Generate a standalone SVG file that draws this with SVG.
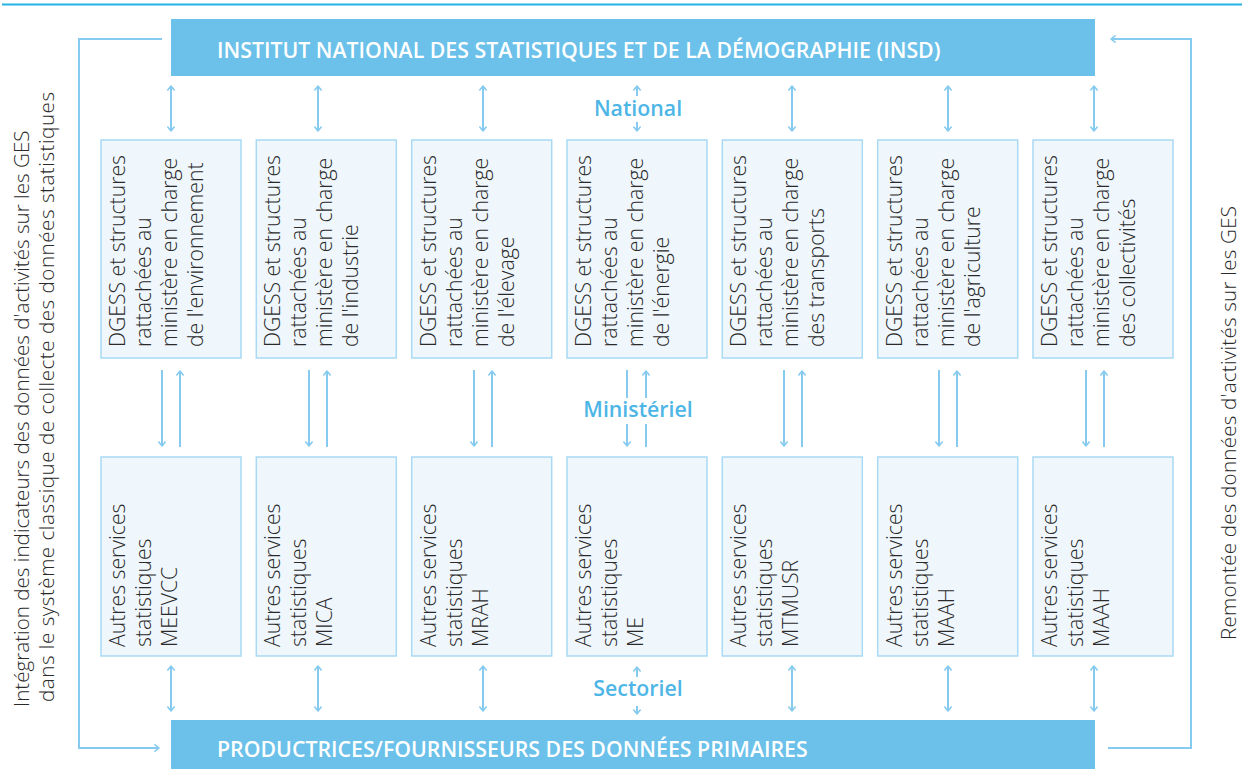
<svg xmlns="http://www.w3.org/2000/svg" width="1242" height="769" viewBox="0 0 1242 769">
  <defs>
    <marker id="head" viewBox="0 0 8 8" markerWidth="8" markerHeight="8" refX="6" refY="4" orient="auto-start-reverse" markerUnits="userSpaceOnUse">
      <path d="M2,0.8 L6,4 L2,7.2" fill="none" stroke="#86cbef" stroke-width="1.6" stroke-linecap="round" stroke-linejoin="round"/>
    </marker>
    <style>
      .band { fill: #6bc1e9; }
      .band-text { font-family: "Open Sans", "Liberation Sans", sans-serif; font-weight: 600; font-size: 21.3px; fill: #ffffff; }
      .box { fill: #eff7fd; stroke: #a9d9f3; stroke-width: 1.5; }
      .box-text { font-family: "Open Sans", "Liberation Sans", sans-serif; font-weight: 300; font-size: 21.2px; fill: #2a2a2a; }
      .side-text { font-family: "Open Sans", "Liberation Sans", sans-serif; font-weight: 300; font-size: 20.6px; fill: #2a2a2a; }
      .level { font-family: "Open Sans", "Liberation Sans", sans-serif; font-weight: 600; font-size: 21.3px; fill: #4db6e6; text-anchor: middle; }
      .link { fill: none; stroke: #86cbef; stroke-width: 2; }
      .both { marker-start: url(#head); marker-end: url(#head); }
      .end { marker-end: url(#head); }
      .rule { stroke: #22b3e2; stroke-width: 2; }
    </style>
  </defs>

  <!-- top rule -->
  <line class="rule" x1="2" y1="4.5" x2="1242" y2="4.5"/>

  <!-- national and primary-data bands -->
  <g id="insd">
    <rect class="band" x="171" y="19" width="924" height="57"/>
    <text class="band-text" x="217" y="58">INSTITUT NATIONAL DES STATISTIQUES ET DE LA DÉMOGRAPHIE (INSD)</text>
  </g>
  <g id="producteurs">
    <rect class="band" x="171" y="720" width="924" height="49"/>
    <text class="band-text" x="217" y="757">PRODUCTRICES/FOURNISSEURS DES DONNÉES PRIMAIRES</text>
  </g>

  <!-- level labels -->
  <g id="levels">
    <text class="level" x="638" y="116">National</text>
    <text class="level" x="638" y="417">Ministériel</text>
    <text class="level" x="638" y="696">Sectoriel</text>
  </g>

  <!-- ministry directorates (upper row) -->
  <g id="dgess-environnement">
    <rect class="box" x="101" y="140" width="140" height="218"/>
    <text class="box-text" transform="translate(125,347) rotate(-90)"><tspan x="0" y="0">DGESS et structures</tspan><tspan x="0" dy="26">rattachées au</tspan><tspan x="0" dy="26">ministère en charge</tspan><tspan x="0" dy="26">de l'environnement</tspan></text>
  </g>
  <g id="dgess-industrie">
    <rect class="box" x="256.3" y="140" width="140" height="218"/>
    <text class="box-text" transform="translate(280.3,347) rotate(-90)"><tspan x="0" y="0">DGESS et structures</tspan><tspan x="0" dy="26">rattachées au</tspan><tspan x="0" dy="26">ministère en charge</tspan><tspan x="0" dy="26">de l'industrie</tspan></text>
  </g>
  <g id="dgess-elevage">
    <rect class="box" x="411.7" y="140" width="140" height="218"/>
    <text class="box-text" transform="translate(435.7,347) rotate(-90)"><tspan x="0" y="0">DGESS et structures</tspan><tspan x="0" dy="26">rattachées au</tspan><tspan x="0" dy="26">ministère en charge</tspan><tspan x="0" dy="26">de l'élevage</tspan></text>
  </g>
  <g id="dgess-energie">
    <rect class="box" x="567" y="140" width="140" height="218"/>
    <text class="box-text" transform="translate(591,347) rotate(-90)"><tspan x="0" y="0">DGESS et structures</tspan><tspan x="0" dy="26">rattachées au</tspan><tspan x="0" dy="26">ministère en charge</tspan><tspan x="0" dy="26">de l'énergie</tspan></text>
  </g>
  <g id="dgess-transports">
    <rect class="box" x="722.3" y="140" width="140" height="218"/>
    <text class="box-text" transform="translate(746.3,347) rotate(-90)"><tspan x="0" y="0">DGESS et structures</tspan><tspan x="0" dy="26">rattachées au</tspan><tspan x="0" dy="26">ministère en charge</tspan><tspan x="0" dy="26">des transports</tspan></text>
  </g>
  <g id="dgess-agriculture">
    <rect class="box" x="877.7" y="140" width="140" height="218"/>
    <text class="box-text" transform="translate(901.7,347) rotate(-90)"><tspan x="0" y="0">DGESS et structures</tspan><tspan x="0" dy="26">rattachées au</tspan><tspan x="0" dy="26">ministère en charge</tspan><tspan x="0" dy="26">de l'agriculture</tspan></text>
  </g>
  <g id="dgess-collectivites">
    <rect class="box" x="1033" y="140" width="140" height="218"/>
    <text class="box-text" transform="translate(1057,347) rotate(-90)"><tspan x="0" y="0">DGESS et structures</tspan><tspan x="0" dy="26">rattachées au</tspan><tspan x="0" dy="26">ministère en charge</tspan><tspan x="0" dy="26">des collectivités</tspan></text>
  </g>

  <!-- other statistical services (lower row) -->
  <g id="ass-meevcc">
    <rect class="box" x="101" y="457" width="140" height="199"/>
    <text class="box-text" transform="translate(125,647) rotate(-90)"><tspan x="0" y="0">Autres services</tspan><tspan x="0" dy="26">statistiques</tspan><tspan x="0" dy="26">MEEVCC</tspan></text>
  </g>
  <g id="ass-mica">
    <rect class="box" x="256.3" y="457" width="140" height="199"/>
    <text class="box-text" transform="translate(280.3,647) rotate(-90)"><tspan x="0" y="0">Autres services</tspan><tspan x="0" dy="26">statistiques</tspan><tspan x="0" dy="26">MICA</tspan></text>
  </g>
  <g id="ass-mrah">
    <rect class="box" x="411.7" y="457" width="140" height="199"/>
    <text class="box-text" transform="translate(435.7,647) rotate(-90)"><tspan x="0" y="0">Autres services</tspan><tspan x="0" dy="26">statistiques</tspan><tspan x="0" dy="26">MRAH</tspan></text>
  </g>
  <g id="ass-me">
    <rect class="box" x="567" y="457" width="140" height="199"/>
    <text class="box-text" transform="translate(591,647) rotate(-90)"><tspan x="0" y="0">Autres services</tspan><tspan x="0" dy="26">statistiques</tspan><tspan x="0" dy="26">ME</tspan></text>
  </g>
  <g id="ass-mtmusr">
    <rect class="box" x="722.3" y="457" width="140" height="199"/>
    <text class="box-text" transform="translate(746.3,647) rotate(-90)"><tspan x="0" y="0">Autres services</tspan><tspan x="0" dy="26">statistiques</tspan><tspan x="0" dy="26">MTMUSR</tspan></text>
  </g>
  <g id="ass-maah-1">
    <rect class="box" x="877.7" y="457" width="140" height="199"/>
    <text class="box-text" transform="translate(901.7,647) rotate(-90)"><tspan x="0" y="0">Autres services</tspan><tspan x="0" dy="26">statistiques</tspan><tspan x="0" dy="26">MAAH</tspan></text>
  </g>
  <g id="ass-maah-2">
    <rect class="box" x="1033" y="457" width="140" height="199"/>
    <text class="box-text" transform="translate(1057,647) rotate(-90)"><tspan x="0" y="0">Autres services</tspan><tspan x="0" dy="26">statistiques</tspan><tspan x="0" dy="26">MAAH</tspan></text>
  </g>

  <!-- side captions -->
  <g id="integration">
    <text class="side-text" transform="translate(29,707) rotate(-90)"><tspan x="0" y="0">Intégration des indicateurs des données d'activités sur les GES</tspan></text>
    <text class="side-text" transform="translate(54,702) rotate(-90)" textLength="610" lengthAdjust="spacing">dans le système classique de collecte des données statistiques</text>
  </g>
  <g id="remontee">
    <text class="side-text" transform="translate(1236,640) rotate(-90)" textLength="434" lengthAdjust="spacing">Remontée des données d'activités sur les GES</text>
  </g>

  <!-- connectors -->
  <g id="connectors">
    <!-- side loops -->
    <path class="link end" d="M162,39 H79 V748 H159"/>
    <path class="link end" d="M1108,748 H1191 V39 H1111"/>

    <!-- national level -->
    <line class="link both" x1="171" y1="86" x2="171" y2="131"/>
    <line class="link both" x1="318" y1="86" x2="318" y2="131"/>
    <line class="link both" x1="483" y1="86" x2="483" y2="131"/>
    <line class="link end" x1="637" y1="96" x2="637" y2="86"/>
    <line class="link end" x1="637" y1="122" x2="637" y2="131"/>
    <line class="link both" x1="792" y1="86" x2="792" y2="131"/>
    <line class="link both" x1="948" y1="86" x2="948" y2="131"/>
    <line class="link both" x1="1094" y1="86" x2="1094" y2="131"/>

    <!-- ministerial level -->
    <line class="link end" x1="162" y1="370" x2="162" y2="446"/>
    <line class="link end" x1="180" y1="447" x2="180" y2="371"/>
    <line class="link end" x1="309" y1="370" x2="309" y2="446"/>
    <line class="link end" x1="327" y1="447" x2="327" y2="371"/>
    <line class="link end" x1="474" y1="370" x2="474" y2="446"/>
    <line class="link end" x1="492" y1="447" x2="492" y2="371"/>
    <line class="link" x1="627" y1="370" x2="627" y2="398"/>
    <line class="link end" x1="627" y1="424" x2="627" y2="446"/>
    <line class="link end" x1="646" y1="398" x2="646" y2="371"/>
    <line class="link" x1="646" y1="424" x2="646" y2="447"/>
    <line class="link end" x1="784" y1="370" x2="784" y2="446"/>
    <line class="link end" x1="802" y1="447" x2="802" y2="371"/>
    <line class="link end" x1="939" y1="370" x2="939" y2="446"/>
    <line class="link end" x1="957" y1="447" x2="957" y2="371"/>
    <line class="link end" x1="1086" y1="370" x2="1086" y2="446"/>
    <line class="link end" x1="1104" y1="447" x2="1104" y2="371"/>

    <!-- sectoral level -->
    <line class="link both" x1="171" y1="666" x2="171" y2="711"/>
    <line class="link both" x1="318" y1="666" x2="318" y2="711"/>
    <line class="link both" x1="483" y1="666" x2="483" y2="711"/>
    <line class="link end" x1="637" y1="677" x2="637" y2="667"/>
    <line class="link end" x1="637" y1="706" x2="637" y2="714"/>
    <line class="link both" x1="792" y1="666" x2="792" y2="711"/>
    <line class="link both" x1="948" y1="666" x2="948" y2="711"/>
    <line class="link both" x1="1094" y1="666" x2="1094" y2="711"/>
  </g>
</svg>
